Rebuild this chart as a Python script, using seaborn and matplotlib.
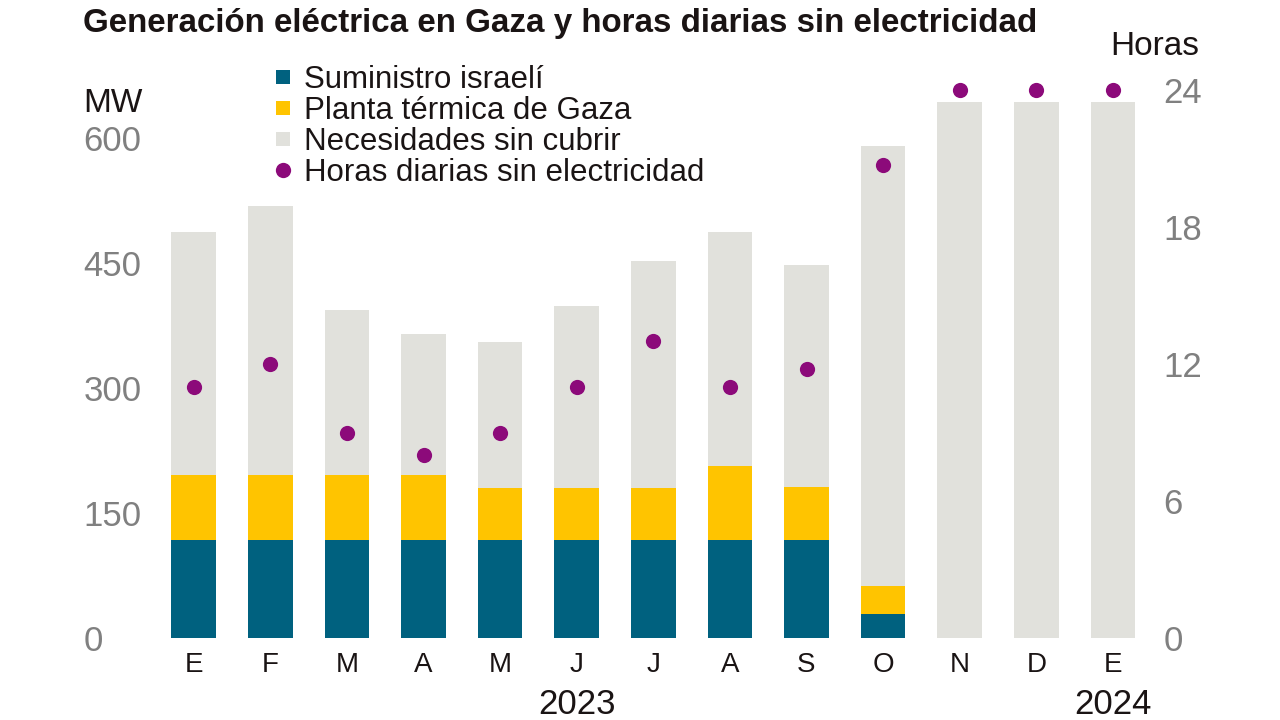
import numpy as np
import pandas as pd
import matplotlib
matplotlib.use("Agg")
import matplotlib.pyplot as plt
import matplotlib.transforms as mtransforms
from matplotlib.lines import Line2D
import seaborn as sns

# ---------------- data ----------------
meses = ["E", "F", "M", "A", "M", "J", "J", "A", "S", "O", "N", "D", "E"]
suministro_israeli = [118, 118, 118, 118, 118, 118, 118, 118, 118, 29, 0, 0, 0]
planta_gaza = [78, 78, 78, 78, 62, 62, 62, 88, 63, 34, 0, 0, 0]
sin_cubrir = [291, 322, 198, 169, 175, 218, 272, 281, 267, 527, 643, 643, 643]
horas_sin_luz = [11, 12, 9, 8, 9, 11, 13, 11, 11.8, 20.7, 24, 24, 24]
mw_ticks = [0, 150, 300, 450, 600]
horas_ticks = [0, 6, 12, 18, 24]
anios = ["2023", "2024"]
anios_pos = [5, 12]
leyenda = ["Suministro israelí", "Planta térmica de Gaza",
           "Necesidades sin cubrir", "Horas diarias sin electricidad"]

# ---------------- style ----------------
sns.set_theme(style="white")
plt.rcParams["font.family"] = ["Liberation Sans", "DejaVu Sans"]

C_BLUE = "#00617f"
C_YELLOW = "#ffc400"
C_GREY = "#e1e1dc"
C_PURPLE = "#8c0a7a"
C_DARK = "#1a1414"
C_TICK = "#808080"

df = pd.DataFrame({
    "idx": np.arange(len(meses)),
    "israel": suministro_israeli,
    "planta": planta_gaza,
    "sin": sin_cubrir,
    "horas": horas_sin_luz,
})
df["gen"] = df["israel"] + df["planta"]
df["total"] = df["gen"] + df["sin"]

fig = plt.figure(figsize=(12.8, 7.2), dpi=100)
W, H = 1280, 720
left_px, right_px = 155.4, 1151.2
bottom_px, top_px = 638, 80
ax = fig.add_axes([left_px / W, 1 - bottom_px / H,
                   (right_px - left_px) / W, (bottom_px - top_px) / H])

bw = 0.58
sns.barplot(data=df, x="idx", y="total", color=C_GREY, width=bw,
            saturation=1, linewidth=0, ax=ax)
sns.barplot(data=df, x="idx", y="gen", color=C_YELLOW, width=bw,
            saturation=1, linewidth=0, ax=ax)
sns.barplot(data=df, x="idx", y="israel", color=C_BLUE, width=bw,
            saturation=1, linewidth=0, ax=ax)

ax2 = ax.twinx()
sns.scatterplot(data=df, x="idx", y="horas", color=C_PURPLE, s=120,
                linewidth=0, legend=False, ax=ax2, zorder=5)

mw_per_px = 1 / 0.8333
h_per_px = 1 / 22.83
ax.set_ylim(0, (bottom_px - top_px) * mw_per_px)
ax2.set_ylim(0, (bottom_px - top_px) * h_per_px)
ax.set_xlim(-0.5, len(meses) - 0.5)

for a in (ax, ax2):
    for s in a.spines.values():
        s.set_visible(False)
    a.set_xlabel("")
    a.set_ylabel("")
    a.grid(False)

ax.set_xticks(df["idx"])
ax.set_xticklabels(meses)
ax.tick_params(axis="x", length=0, pad=10, labelsize=20, labelcolor=C_DARK)

ax.set_yticks(mw_ticks)
ax.set_yticklabels([str(v) for v in mw_ticks])
ax.tick_params(axis="y", length=0, pad=52, labelsize=25, labelcolor=C_TICK)
for lbl in ax.get_yticklabels():
    lbl.set_horizontalalignment("left")

ax2.set_yticks(horas_ticks)
ax2.set_yticklabels([str(v) for v in horas_ticks])
ax2.tick_params(axis="y", length=0, pad=8.6, labelsize=25, labelcolor=C_TICK)

# year labels
trans = mtransforms.blended_transform_factory(ax.transData, ax.transAxes)
for lab, pos in zip(anios, anios_pos):
    ax.text(pos, -0.0895, lab, transform=trans, ha="center", va="top",
            fontsize=25, color=C_DARK)

# axis unit labels
fig.text(83 / W, 1 - 112 / H, "MW", ha="left", va="baseline",
         fontsize=24, color=C_DARK)
fig.text(1110 / W, 1 - 55 / H, "Horas", ha="left", va="baseline",
         fontsize=24, color=C_DARK)

# title
fig.text(83 / W, 1 - 32 / H,
         "Generación eléctrica en Gaza y horas diarias sin electricidad",
         ha="left", va="baseline", fontsize=23.9, fontweight="bold",
         color=C_DARK)

# legend
handles = [
    Line2D([], [], marker="s", linestyle="", markersize=10.5,
           markerfacecolor=C_BLUE, markeredgewidth=0),
    Line2D([], [], marker="s", linestyle="", markersize=10.5,
           markerfacecolor=C_YELLOW, markeredgewidth=0),
    Line2D([], [], marker="s", linestyle="", markersize=10.5,
           markerfacecolor=C_GREY, markeredgewidth=0),
    Line2D([], [], marker="o", linestyle="", markersize=11,
           markerfacecolor=C_PURPLE, markeredgewidth=0),
]
leg = fig.legend(handles, leyenda, loc="upper left",
                 bbox_to_anchor=(275 / W, 1 - 65 / H),
                 frameon=False, fontsize=22.5, borderpad=0, borderaxespad=0,
                 handlelength=0.5, handletextpad=0.42, labelspacing=0.03)
for t in leg.get_texts():
    t.set_color(C_DARK)

fig.savefig("out.png", dpi=100, facecolor="white")
